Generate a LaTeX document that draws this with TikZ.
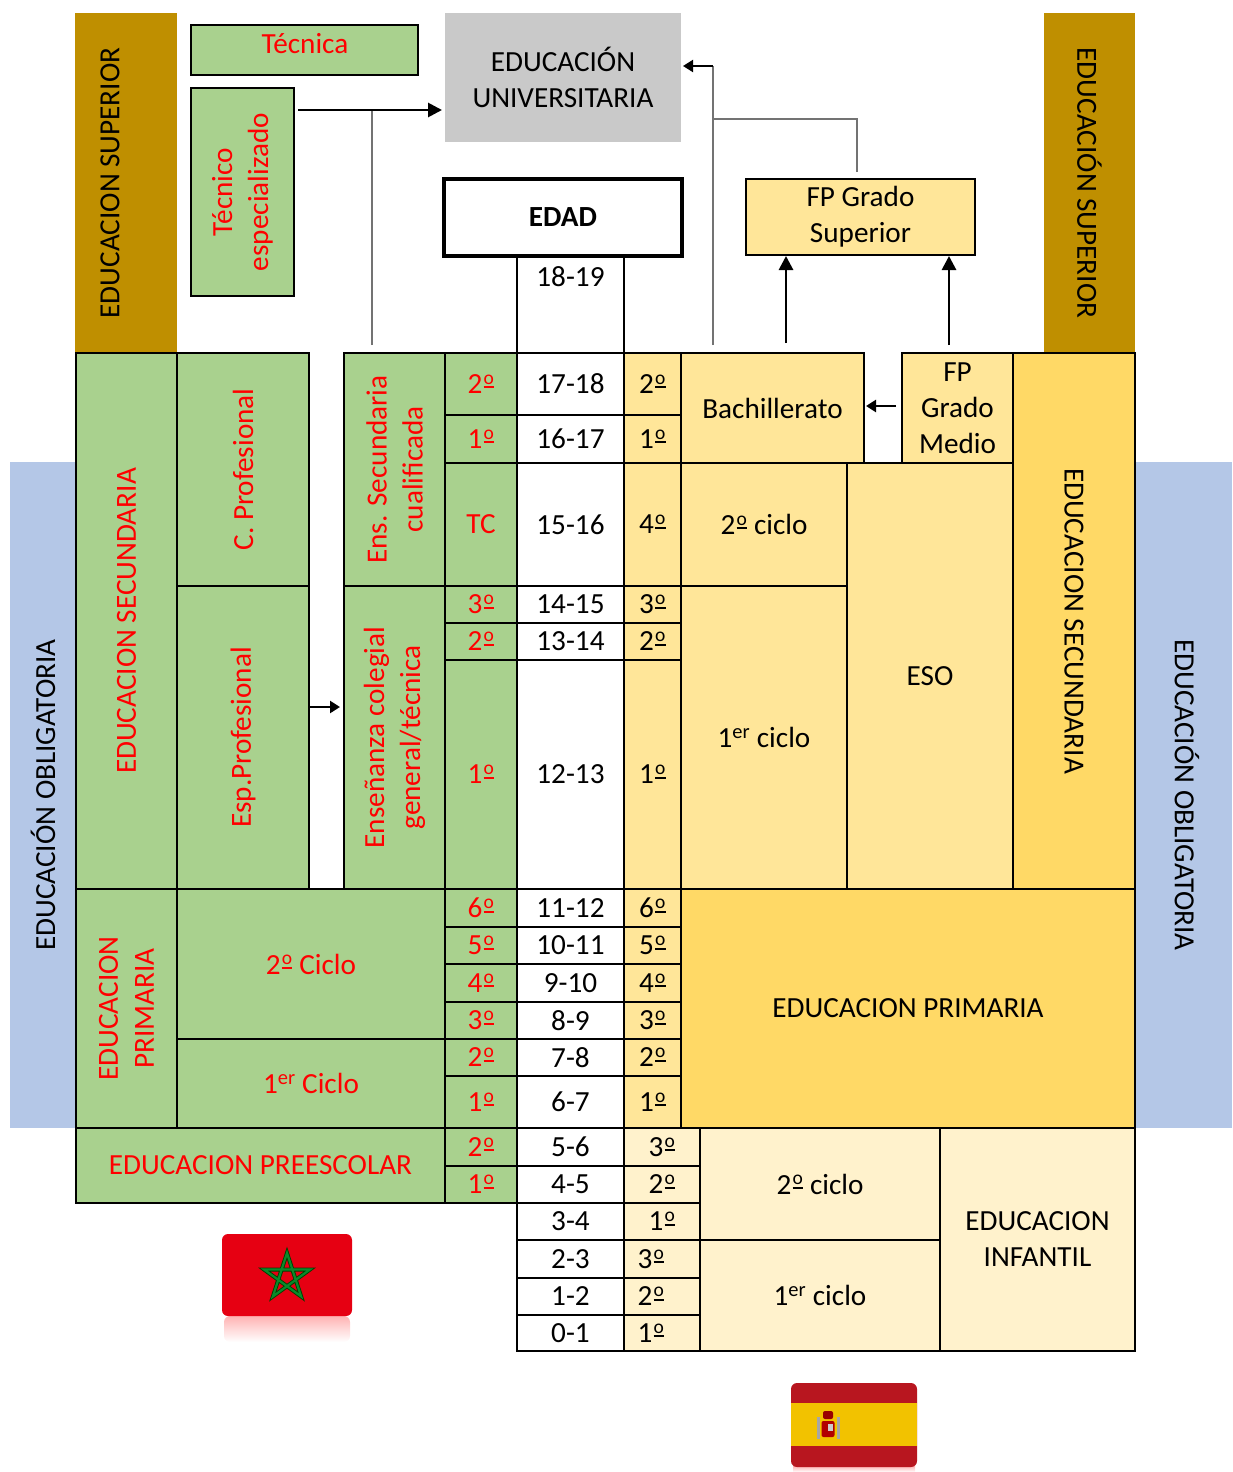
\documentclass[tikz,border=0pt]{standalone}
\usepackage{fontspec}
\setmainfont{Carlito}
\usetikzlibrary{arrows.meta}
\definecolor{grn}{HTML}{A9D18E}
\definecolor{yelA}{HTML}{FFE699}
\definecolor{yelB}{HTML}{FFD966}
\definecolor{yelC}{HTML}{FFF2CC}
\definecolor{brn}{HTML}{BF8F00}
\definecolor{blu}{HTML}{B4C7E7}
\definecolor{gry}{HTML}{C9C9C9}
\definecolor{redt}{HTML}{FF0000}
\definecolor{mared}{HTML}{E60012}
\definecolor{magreen}{HTML}{0A8A2A}
\definecolor{esred}{HTML}{B8161F}
\definecolor{esyel}{HTML}{F2C200}
\newcommand\msz{\fontsize{29.2}{36}\selectfont}
% ordinal indicator drawn as underlined raised o
\newcommand\oo{\hspace{1.2pt}\rlap{\rule[5.2pt]{10.5pt}{1.9pt}}\raisebox{9.2pt}{\fontsize{19.5}{19.5}\selectfont o}\hspace{0.6pt}}
\newcommand\cell[7]{%
  \pgfmathsetmacro\cX{(#3+#5)/2}%
  \pgfmathsetmacro\cY{(#4+#6)/2}%
  \pgfmathsetmacro\cW{#5-#3}%
  \pgfmathsetmacro\cH{#6-#4}%
  \node[#1, minimum width=\cW pt, minimum height=\cH pt] (#2) at (\cX,\cY) {#7};}
\newcommand\vcell[8]{%
  \pgfmathsetmacro\cX{(#3+#5)/2}%
  \pgfmathsetmacro\cY{(#4+#6)/2}%
  \pgfmathsetmacro\cW{#5-#3}%
  \pgfmathsetmacro\cH{#6-#4}%
  \node[#1, rotate=#7, minimum width=\cH pt, minimum height=\cW pt] (#2) at (\cX,\cY) {#8};}
\begin{document}
\begin{tikzpicture}[x=1pt,y=-1pt,
  box/.style={inner sep=0pt, outer sep=0pt, font=\msz, align=center},
  cellB/.style={box, draw, line width=2.4pt},
  cellG/.style={cellB, fill=grn, text=redt},
  cellW/.style={cellB, fill=white},
  cellY/.style={cellB, fill=yelA},
  cellYB/.style={cellB, fill=yelB},
  cellYC/.style={cellB, fill=yelC},
  band/.style={box},
  gline/.style={line width=1.5pt, draw=black!55},
  arr/.style={line width=2.8pt, -{Triangle[length=14pt,width=14pt]}},
  arrS/.style={line width=2.4pt, -{Triangle[length=10pt,width=12pt]}},
]
\useasboundingbox (0,0) rectangle (1232,1472);

% background bands
\cell{band, fill=blu}{oblL}{10}{462}{76}{1128}{}
\cell{band, fill=blu}{oblR}{1135}{462}{1232}{1128}{}
\cell{band, fill=brn}{supL}{75}{13}{177}{353}{}
\cell{band, fill=brn}{supR}{1044}{13}{1135}{353}{}
\node[box, rotate=90] (tsupL) at (110,183) {EDUCACION SUPERIOR};
\node[box, rotate=-90] (tsupR) at (1089.5,183) {EDUCACIÓN SUPERIOR};
\node[box, rotate=90] (toblL) at (43,795) {EDUCACIÓN OBLIGATORIA};
\node[box, rotate=-90] (toblR) at (1187,795) {EDUCACIÓN OBLIGATORIA};

% top boxes
\cell{cellG}{tecnica}{191}{25}{418}{75}{}
\node[box, text=redt] (ttecnica) at (305,44) {Técnica};
\vcell{cellG}{tecesp}{191}{88}{294}{296}{90}{Técnico\\especializado}
\cell{band, fill=gry}{uni}{445}{13}{681}{142}{EDUCACIÓN\\UNIVERSITARIA}
\cell{cellW}{a1819}{517}{256}{624}{353}{}
\node[box] (t1819) at (570.5,277) {18-19};
\cell{cellB, fill=white, line width=4.5pt}{edad}{444}{179}{682}{256}{\textbf{EDAD}}
\cell{cellY}{fps}{746}{179}{975}{255}{FP Grado\\Superior}

% Moroccan side
\vcell{cellG}{secM}{76}{353}{177}{889}{90}{EDUCACION SECUNDARIA}
\vcell{cellG}{cprof}{177}{353}{309}{586}{90}{C. Profesional}
\vcell{cellG}{eprof}{177}{586}{309}{889}{90}{Esp.Profesional}
\vcell{cellG}{ensq}{344}{353}{445}{586}{90}{Ens. Secundaria\\cualificada}
\vcell{cellG}{ensc}{344}{586}{445}{889}{90}{Enseñanza colegial\\general/técnica}
\vcell{cellG}{priM}{76}{889}{177}{1128}{90}{EDUCACION\\PRIMARIA}
\cell{cellG}{c2M}{177}{889}{445}{1039}{2\oo{} Ciclo}
\cell{cellG}{c1M}{177}{1039}{445}{1128}{1\textsuperscript{er} Ciclo}
\cell{cellG}{preM}{76}{1128}{445}{1203}{EDUCACION PREESCOLAR}

% Spanish side
\cell{cellY}{bach}{681}{353}{864}{463}{Bachillerato}
\cell{cellY}{fpm}{902}{353}{1013}{463}{FP\\Grado\\Medio}
\vcell{cellYB}{secE}{1013}{353}{1135}{889}{-90}{EDUCACION SECUNDARIA}
\cell{cellY}{c2E}{681}{463}{847}{586}{2\oo{} ciclo}
\cell{cellY}{c1E}{681}{586}{847}{889}{1\textsuperscript{er} ciclo}
\cell{cellY}{eso}{847}{463}{1013}{889}{ESO}
\cell{cellYB}{priE}{681}{889}{1135}{1128}{EDUCACION PRIMARIA}
\cell{cellYC}{i2}{700}{1128}{940}{1240}{2\oo{} ciclo}
\cell{cellYC}{i1}{700}{1240}{940}{1351}{1\textsuperscript{er} ciclo}
\cell{cellYC}{inf}{940}{1128}{1135}{1351}{EDUCACION\\INFANTIL}

% rows
\foreach \ya/\yb/\mg/\ag/\eg [count=\i] in {353/415/2\oo/17-18/2\oo, 415/463/1\oo/16-17/1\oo, 463/586/TC/15-16/4\oo, 586/623/3\oo/14-15/3\oo, 623/660/2\oo/13-14/2\oo, 660/889/1\oo/12-13/1\oo, 889/927/6\oo/11-12/6\oo, 927/964/5\oo/10-11/5\oo, 964/1002/4\oo/9-10/4\oo, 1002/1039/3\oo/8-9/3\oo, 1039/1076/2\oo/7-8/2\oo, 1076/1128/1\oo/6-7/1\oo}{
  \cell{cellG}{mg\i}{445}{\ya}{517}{\yb}{\mg}
  \cell{cellW}{ag\i}{517}{\ya}{624}{\yb}{\ag}
  \cell{cellY}{eg\i}{624}{\ya}{681}{\yb}{\eg}
}
\foreach \ya/\yb/\mg/\ag/\eg [count=\i] in {1128/1166/2\oo/5-6/3\oo, 1166/1203/1\oo/4-5/2\oo}{
  \cell{cellG}{pg\i}{445}{\ya}{517}{\yb}{\mg}
  \cell{cellW}{pa\i}{517}{\ya}{624}{\yb}{\ag}
  \cell{cellYC}{pe\i}{624}{\ya}{700}{\yb}{\eg}
}
\foreach \ya/\yb/\ag/\eg [count=\i] in {1203/1240/3-4/1\oo, 1240/1278/2-3/\hspace*{-22pt}3\oo, 1278/1315/1-2/\hspace*{-22pt}2\oo, 1315/1351/0-1/\hspace*{-22pt}1\oo}{
  \cell{cellW}{qa\i}{517}{\ya}{624}{\yb}{\ag}
  \cell{cellYC}{qe\i}{624}{\ya}{700}{\yb}{\eg}
}

% connectors
\coordinate (tA) at (298,110);
\coordinate (v1) at (372,345);
\coordinate (v2) at (372,110);
\draw[gline] (v1) -- (v2);
\draw[arr, shorten >=3pt] (tA) -- (uni.west |- tA);
\coordinate (u1) at (713,345);
\coordinate (u2) at (713,66);
\draw[gline] (u1) -- (u2);
\draw[arrS, line width=2pt, shorten >=2pt] (u2) -- (uni.east |- u2);
\coordinate (f1) at (857,172);
\coordinate (f2) at (713,119);
\draw[gline] (f1) |- (f2);
\coordinate (b1) at (786,343);
\coordinate (b2) at (949,345);
\draw[arr, shorten >=1pt] (b1) -- (fps.south -| b1);
\draw[arr, shorten >=1pt] (b2) -- (fps.south -| b2);
\coordinate (m1) at (896,406);
\draw[arrS, shorten >=2pt] (m1) -- (bach.east |- m1);
\coordinate (e1) at (309,707);
\draw[arrS, shorten >=4pt] (e1) -- (ensc.north |- e1);

% Morocco flag
\node[box, top color=red!30, bottom color=white, rounded corners=6pt, minimum width=126pt, minimum height=26pt] (flagMAr) at (287,1329) {};
\node[box, fill=mared, rounded corners=6pt, minimum width=130pt, minimum height=82pt] (flagMA) at (287,1275) {};
\begin{scope}[shift={(287,1277)}]
\draw[line width=4pt, draw=black!75!green, line join=miter] (-90:24) -- (54:24) -- (198:24) -- (342:24) -- (126:24) -- cycle;
\draw[line width=2.2pt, draw=magreen, line join=miter] (-90:24) -- (54:24) -- (198:24) -- (342:24) -- (126:24) -- cycle;
\end{scope}

% Spain flag
\node[box, top color=red!30, bottom color=white, minimum width=122pt, minimum height=6pt] (flagESr) at (854,1469) {};
\node[box, fill=esred, rounded corners=6pt, minimum width=126pt, minimum height=84pt] (flagES) at (854,1425) {};
\node[box, fill=esyel, minimum width=126pt, minimum height=43pt] (flagESy) at (854,1424.5) {};
\node[box, fill=gray!70, minimum width=3pt, minimum height=22pt] (pilL) at (818,1428) {};
\node[box, fill=gray!70, minimum width=3pt, minimum height=22pt] (pilR) at (838,1428) {};
\node[box, fill=red!70!black, rounded corners=2pt, minimum width=13pt, minimum height=16pt] (shield) at (828,1429) {};
\node[box, fill=white!60!gray, minimum width=5pt, minimum height=7pt] (shieldc) at (830,1427) {};
\node[box, fill=red!60!black, rounded corners=2pt, minimum width=10pt, minimum height=8pt] (crown) at (828,1415) {};
\end{tikzpicture}
\end{document}
